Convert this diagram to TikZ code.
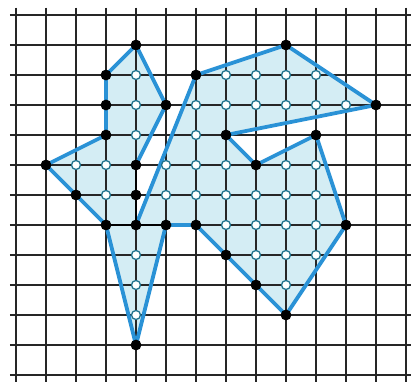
\documentclass[tikz,border=0pt]{standalone}
\usepackage{tikz}
\definecolor{rimblue}{RGB}{42,146,214}
\definecolor{areablue}{RGB}{212,237,244}
\definecolor{ringteal}{RGB}{28,112,140}
\begin{document}
\begin{tikzpicture}[x=1cm,y=-1cm,line join=round,
    gridline/.style={black!85,line width=1.6pt},
    rim/.style={rimblue,line width=3.6pt},
    cut/.style={black,line width=2.6pt},
    bdot/.style={fill=black},
    idot/.style={fill=white,draw=ringteal,line width=1.2pt}]
    \useasboundingbox (-0.533,-0.5) rectangle (13.167,12.233);

    \coordinate (A) at (4,1);
    \coordinate (B) at (5,3);
    \coordinate (C) at (4,5);
    \coordinate (D) at (4,7);
    \coordinate (E) at (6,2);
    \coordinate (F) at (9,1);
    \coordinate (G) at (12,3);
    \coordinate (H) at (7,4);
    \coordinate (I) at (8,5);
    \coordinate (J) at (10,4);
    \coordinate (K) at (11,7);
    \coordinate (L) at (9,10);
    \coordinate (M) at (7,8);
    \coordinate (N) at (6,7);
    \coordinate (O) at (5,7);
    \coordinate (P) at (4,11);
    \coordinate (Q) at (3,7);
    \coordinate (R) at (1,5);
    \coordinate (S) at (3,4);
    \coordinate (T) at (3,2);

    \fill[areablue] (A) -- (B) -- (C) -- (D) -- (E) -- (F) -- (G) -- (H)
        -- (I) -- (J) -- (K) -- (L) -- (M) -- (N) -- (O) -- (P) -- (Q)
        -- (R) -- (S) -- (T) -- cycle;

    \foreach \c in {0,...,13}
        \draw[gridline] (\c,-0.25) -- (\c,12.4);
    \foreach \r in {0,...,12}
        \draw[gridline] (-0.2,\r) -- (13.3,\r);

    \draw[rim] (D) -- (E) -- (F) -- (G) -- (H) -- (I) -- (J) -- (K) -- (L)
        -- (M) -- (N) -- (O) -- (P) -- (Q) -- (R) -- (S) -- (T) -- (A)
        -- (B) -- (C);
    \draw[cut] (C) -- (D);
    \draw[cut] (Q) -- (O);

    \foreach \c/\r in {4/1,9/1,3/2,6/2,3/3,5/3,12/3,3/4,7/4,10/4,1/5,4/5,
                       8/5,2/6,4/6,3/7,4/7,5/7,6/7,11/7,7/8,8/9,9/10,4/11}
        \fill[bdot] (\c,\r) circle (0.18cm);
    \foreach \c/\r in {4/2,7/2,8/2,9/2,10/2,
                       4/3,6/3,7/3,8/3,9/3,10/3,11/3,
                       4/4,6/4,
                       2/5,3/5,5/5,6/5,7/5,9/5,10/5,
                       3/6,5/6,6/6,7/6,8/6,9/6,10/6,
                       7/7,8/7,9/7,10/7,
                       4/8,8/8,9/8,10/8,
                       4/9,9/9,4/10}
        \draw[idot] (\c,\r) circle (0.15cm);
\end{tikzpicture}
\end{document}
